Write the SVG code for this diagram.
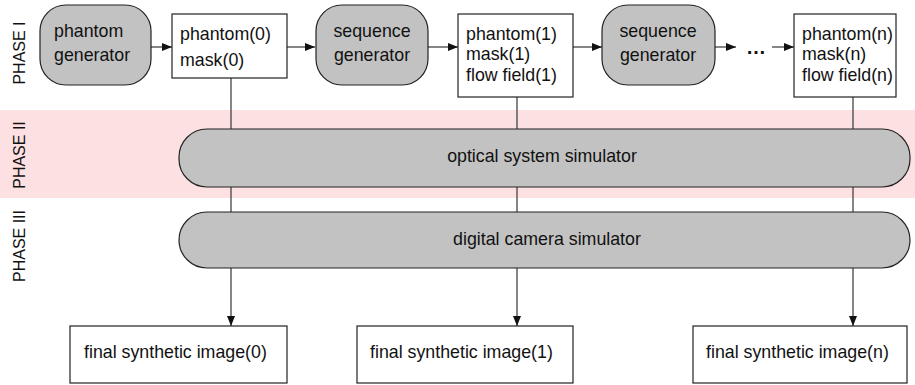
<svg xmlns="http://www.w3.org/2000/svg" width="915" height="385" viewBox="0 0 915 385">
<style>
  text { font-family: "Liberation Sans", Arial, Helvetica, sans-serif; font-size: 17.8px; fill: #111; }
  .phase { font-size: 16px; }
  .proc { fill: #c2c2c2; stroke: #222; stroke-width: 1.2; }
  .data { fill: #fff; stroke: #222; stroke-width: 1.2; }
  .conn { stroke: #444; stroke-width: 1.3; fill: none; }
  .mid { text-anchor: middle; }
</style>
<defs>
  <marker id="arr" viewBox="0 0 10 8" refX="10" refY="4" markerWidth="10" markerHeight="8" markerUnits="userSpaceOnUse" orient="auto">
    <path d="M0,0 L10,4 L0,8 Z" fill="#111"/>
  </marker>
</defs>

<rect id="phase2-band" x="0" y="110" width="915" height="88" fill="#fde0e1"/>

<g id="phase-labels">
  <text class="phase mid" transform="translate(25,53) rotate(-90)">PHASE I</text>
  <text class="phase mid" transform="translate(25,155) rotate(-90)">PHASE II</text>
  <text class="phase mid" transform="translate(25,246) rotate(-90)">PHASE III</text>
</g>

<g id="connectors">
  <line class="conn" x1="151" y1="47" x2="172" y2="47" marker-end="url(#arr)"/>
  <line class="conn" x1="287" y1="47" x2="315" y2="47" marker-end="url(#arr)"/>
  <line class="conn" x1="428" y1="47" x2="458" y2="47" marker-end="url(#arr)"/>
  <line class="conn" x1="573" y1="47" x2="602" y2="47" marker-end="url(#arr)"/>
  <line class="conn" x1="715" y1="47" x2="736" y2="47" marker-end="url(#arr)"/>
  <line class="conn" x1="772" y1="47" x2="794" y2="47" marker-end="url(#arr)"/>
  <line class="conn" x1="231" y1="78" x2="231" y2="326" marker-end="url(#arr)"/>
  <line class="conn" x1="517" y1="97" x2="517" y2="326" marker-end="url(#arr)"/>
  <line class="conn" x1="853" y1="97" x2="853" y2="326" marker-end="url(#arr)"/>
</g>

<g id="ellipsis">
  <text class="mid" x="756" y="54" style="font-size:20px;font-weight:bold">…</text>
</g>

<g id="phantom-generator">
  <rect class="proc" x="40" y="5" width="111" height="80" rx="26" ry="26"/>
  <text x="54" y="37">phantom</text>
  <text x="54" y="61">generator</text>
</g>

<g id="frame0">
  <rect class="data" x="172" y="14" width="115" height="64"/>
  <text x="180" y="40">phantom(0)</text>
  <text x="180" y="66">mask(0)</text>
</g>

<g id="sequence-generator-1">
  <rect class="proc" x="316" y="5" width="112" height="80" rx="26" ry="26"/>
  <text class="mid" x="372" y="37">sequence</text>
  <text class="mid" x="372" y="61">generator</text>
</g>

<g id="frame1">
  <rect class="data" x="458" y="14" width="115" height="83"/>
  <text x="466" y="40">phantom(1)</text>
  <text x="466" y="60">mask(1)</text>
  <text x="466" y="81">flow field(1)</text>
</g>

<g id="sequence-generator-2">
  <rect class="proc" x="602" y="5" width="113" height="80" rx="26" ry="26"/>
  <text class="mid" x="658" y="37">sequence</text>
  <text class="mid" x="658" y="61">generator</text>
</g>

<g id="frameN">
  <rect class="data" x="794" y="14" width="102" height="83"/>
  <text x="802" y="40">phantom(n)</text>
  <text x="802" y="60">mask(n)</text>
  <text x="802" y="81">flow field(n)</text>
</g>

<g id="optical-system-simulator">
  <rect class="proc" x="179" y="129" width="731" height="58" rx="28" ry="28"/>
  <text class="mid" x="542" y="162">optical system simulator</text>
</g>

<g id="digital-camera-simulator">
  <rect class="proc" x="179" y="212" width="731" height="56" rx="28" ry="28"/>
  <text class="mid" x="547" y="245">digital camera simulator</text>
</g>

<g id="final0">
  <rect class="data" x="70" y="326" width="217" height="57"/>
  <text x="84" y="358">final synthetic image(0)</text>
</g>

<g id="final1">
  <rect class="data" x="357" y="326" width="216" height="57"/>
  <text x="370" y="358">final synthetic image(1)</text>
</g>

<g id="finalN">
  <rect class="data" x="693" y="326" width="214" height="57"/>
  <text x="706" y="358">final synthetic image(n)</text>
</g>
</svg>
